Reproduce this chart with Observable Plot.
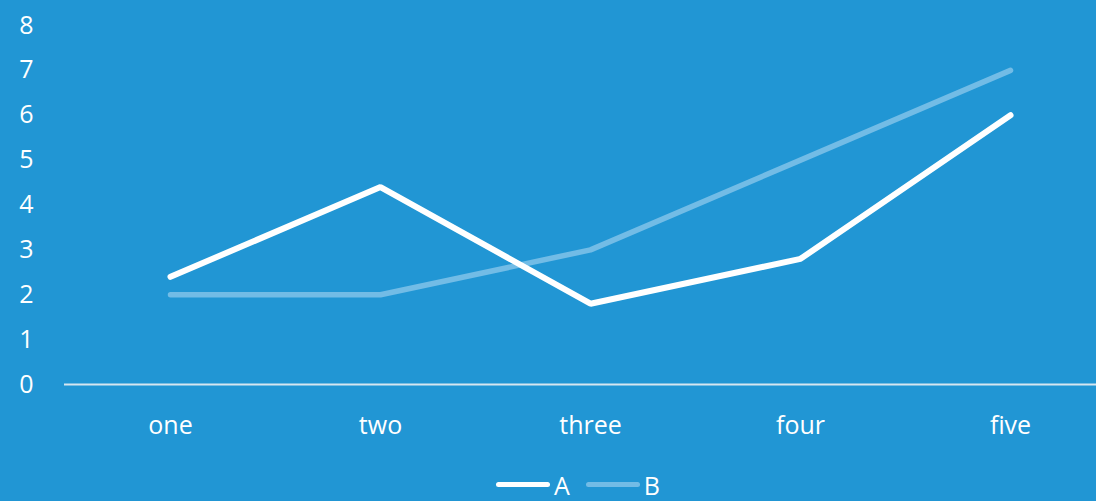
<!DOCTYPE html>
<html>
<head>
<meta charset="utf-8">
<script src="https://cdn.jsdelivr.net/npm/d3@7"></script>
<script src="https://cdn.jsdelivr.net/npm/@observablehq/plot@0.6"></script>
<style>
  html, body { margin: 0; padding: 0; background: #2196d4; overflow: hidden; }
  #wrap { width: 1096px; height: 501px; background: #2196d4; font-family: "Open Sans", sans-serif; color: #fff; }
  #legend { height: 41px; display: flex; justify-content: center; align-items: center; gap: 16px; font-size: 25px; line-height: 28px; padding-left: 60px; padding-top: 8px; box-sizing: border-box; }
  .item { display: flex; align-items: center; gap: 4px; }
  .sw { width: 54px; height: 5px; border-radius: 3px; }
</style>
</head>
<body>
<div id="wrap"><div id="chart"></div><div id="legend"></div></div>
<script>
const categories = ["one", "two", "three", "four", "five"];
const seriesA = [2.4, 4.4, 1.8, 2.8, 6];
const seriesB = [2, 2, 3, 5, 7];
const yTicks = [0, 1, 2, 3, 4, 5, 6, 7, 8];
const seriesNames = ["A", "B"];
const seriesColors = ["#ffffff", "#72bce6"];

const rows = [];
categories.forEach((c, i) => {
  rows.push({cat: c, value: seriesA[i], series: "A"});
  rows.push({cat: c, value: seriesB[i], series: "B"});
});

const chart = Plot.plot({
  width: 1096,
  height: 460,
  marginLeft: 64,
  marginRight: 0,
  marginTop: 0,
  marginBottom: 76,
  style: {background: "#2196d4", color: "#fff", fontFamily: "Open Sans, sans-serif", fontSize: "25px", overflow: "hidden"},
  x: {type: "point", domain: categories, range: [168, 1011], padding: 0, label: null},
  y: {domain: [0, 8], range: [384, 25], label: null},
  color: {domain: seriesNames, range: seriesColors},
  marks: [
    Plot.axisY({ticks: yTicks, tickSize: 0, tickPadding: 31, fill: "#fff", fontSize: 25}),
    Plot.axisX({tickSize: 0, tickPadding: 32, fill: "#fff", fontSize: 25}),
    Plot.ruleY([0], {stroke: "#d6e6f0", strokeWidth: 2}),
    Plot.line(rows.filter(d => d.series === "B"), {x: "cat", y: "value", stroke: "series", strokeWidth: 5.5, strokeLinecap: "round", strokeLinejoin: "round"}),
    Plot.line(rows.filter(d => d.series === "A"), {x: "cat", y: "value", stroke: "series", strokeWidth: 6, strokeLinecap: "round", strokeLinejoin: "miter"})
  ]
});
document.getElementById("chart").appendChild(chart);

const legend = document.getElementById("legend");
seriesNames.forEach((n, i) => {
  const it = document.createElement("div");
  it.className = "item";
  const sw = document.createElement("div");
  sw.className = "sw";
  sw.style.background = seriesColors[i];
  const t = document.createElement("span");
  t.textContent = n;
  it.appendChild(sw); it.appendChild(t);
  legend.appendChild(it);
});
</script>
</body>
</html>
